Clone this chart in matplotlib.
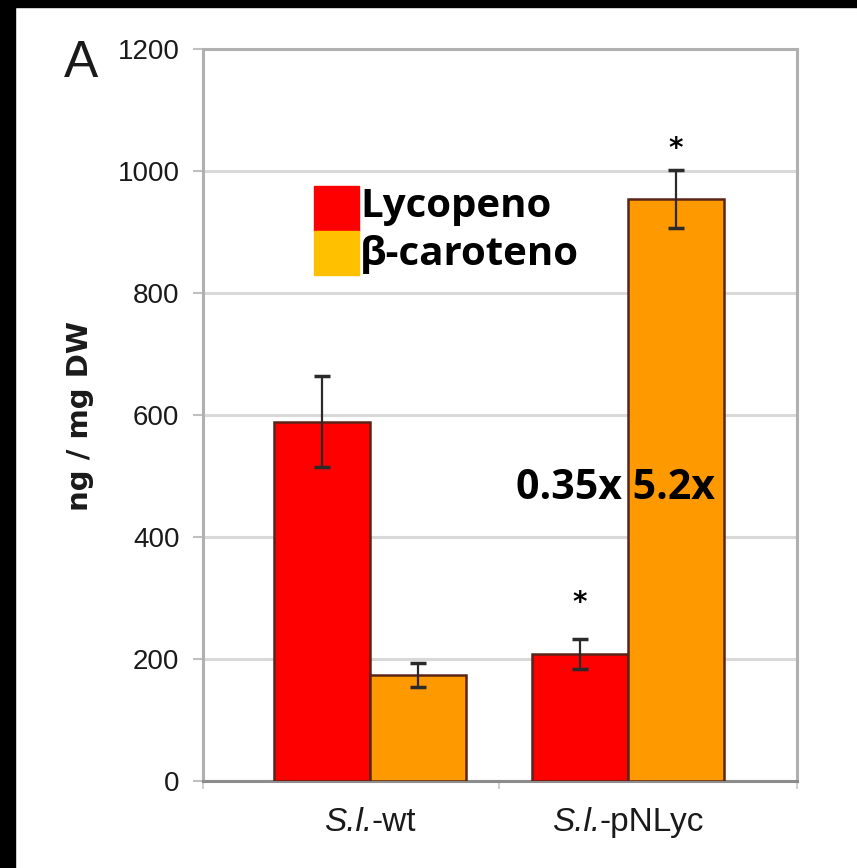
import matplotlib
matplotlib.use("Agg")
import matplotlib.pyplot as plt
from matplotlib.patches import Rectangle
from matplotlib.offsetbox import TextArea, HPacker, AnnotationBbox
from matplotlib import font_manager
import numpy as np

# ---- data ----
categories = ["S.l.-wt", "S.l.-pNLyc"]
lycopeno = [589, 208]
lycopeno_err = [75, 25]
bcaroteno = [174, 954]
bcaroteno_err = [20, 48]
lyc_signif = [False, True]
bcar_signif = [False, True]
yticks = [0, 200, 400, 600, 800, 1000, 1200]
fold_text = "0.35x 5.2x"
legend_labels = ["Lycopeno", "β-caroteno"]

plt.rcParams['font.family'] = ['Liberation Sans', 'DejaVu Sans']

names = {f.name for f in font_manager.fontManager.ttflist}
narrow = 'Liberation Sans Narrow' if 'Liberation Sans Narrow' in names else 'Liberation Sans'
tick_fs = 22 if narrow == 'Liberation Sans Narrow' else 20

W, H = 857, 868
fig = plt.figure(figsize=(W / 100, H / 100), dpi=100)
fig.patch.set_facecolor('white')

# black borders (top and left)
fig.patches.append(Rectangle((0, 1 - 7 / H), 1, 7 / H, transform=fig.transFigure,
                             color='black', zorder=0))
fig.patches.append(Rectangle((0, 0), 15 / W, 1, transform=fig.transFigure,
                             color='black', zorder=0))

ax = fig.add_axes([203 / W, (H - 781) / H, (797 - 203) / W, (781 - 49) / H])

x = np.arange(len(categories))
bw = 0.372
red = '#FF0000'
orange = '#FF9900'
edge = '#5a2418'

ax.bar(x - bw / 2, lycopeno, bw, color=red, edgecolor=edge, linewidth=1.8, zorder=3)
ax.bar(x + bw / 2, bcaroteno, bw, color=orange, edgecolor=edge, linewidth=1.8, zorder=3)
ax.errorbar(x - bw / 2, lycopeno, yerr=lycopeno_err, fmt='none', ecolor='#2a2a2a',
            elinewidth=1.6, capsize=6, capthick=2.5, zorder=4)
ax.errorbar(x + bw / 2, bcaroteno, yerr=bcaroteno_err, fmt='none', ecolor='#2a2a2a',
            elinewidth=1.6, capsize=6, capthick=2.5, zorder=4)

for i in range(len(categories)):
    if lyc_signif[i]:
        ax.text(x[i] - bw / 2, lycopeno[i] + lycopeno_err[i] + 58, '*', ha='center',
                va='center', fontsize=20, fontweight='bold', color='black',
                family='DejaVu Sans', zorder=5)
    if bcar_signif[i]:
        ax.text(x[i] + bw / 2, bcaroteno[i] + bcaroteno_err[i] + 34, '*', ha='center',
                va='center', fontsize=20, fontweight='bold', color='black',
                family='DejaVu Sans', zorder=5)

ax.set_ylim(0, 1200)
ax.set_xlim(-0.647, 1.655)
ax.set_yticks(yticks)
ax.set_yticklabels([str(v) for v in yticks], fontsize=tick_fs, color='#1a1a1a',
                   family=narrow)
ax.yaxis.grid(True, color='#d9d9d9', linewidth=2.2, zorder=0)
ax.set_axisbelow(True)

ax.set_xticks([-0.647, 0.5, 1.655])
ax.set_xticklabels(['', '', ''])
ax.tick_params(axis='x', which='major', length=6, width=1.5, color='#d0d0d0')
ax.tick_params(axis='y', length=7, width=1.5, color='#c0c0c0', pad=10)

# category labels: italic species abbreviation + plain suffix
for xi, cat in zip(x, categories):
    k = cat.index('-')
    it_part, rest = cat[:k], cat[k:]
    tp = dict(fontsize=24, color='#1a1a1a', family='Liberation Sans')
    box = HPacker(children=[TextArea(it_part, textprops=dict(style='italic', **tp)),
                            TextArea(rest, textprops=tp)],
                  pad=0, sep=0, align='baseline')
    ab = AnnotationBbox(box, (xi, 0), xycoords=('data', 'axes fraction'),
                        xybox=(0, -30), boxcoords='offset points', frameon=False,
                        box_alignment=(0.5, 0.5), annotation_clip=False)
    ax.add_artist(ab)

for s in ['left', 'top', 'right']:
    ax.spines[s].set_color('#b0b0b0')
    ax.spines[s].set_linewidth(2.2)
ax.spines['bottom'].set_color('#8c8c8c')
ax.spines['bottom'].set_linewidth(2.2)

# annotation
ax.text(0.953, 480, fold_text, ha='center', va='center', fontsize=29.5,
        fontweight='bold', family=['Open Sans', 'DejaVu Sans'], color='black', zorder=6)

# legend (manual)
def fx(px):
    return px / W

def fy(py):
    return 1 - py / H

fig.patches.append(Rectangle((fx(314), fy(231)), fx(359) - fx(314), fy(186) - fy(231),
                             transform=fig.transFigure, color='#FF0000', zorder=5))
fig.patches.append(Rectangle((fx(314), fy(275)), fx(359) - fx(314), fy(231) - fy(275),
                             transform=fig.transFigure, color='#FFC000', zorder=5))
fig.text(fx(360), fy(207), legend_labels[0], ha='left', va='center', fontsize=29,
         fontweight='bold', family=['Open Sans', 'DejaVu Sans'], color='black')
fig.text(fx(360), fy(255), legend_labels[1], ha='left', va='center', fontsize=29,
         fontweight='bold', family=['Open Sans', 'DejaVu Sans'], color='black')

# y label
fig.text(fx(80), fy(416), 'ng / mg DW', rotation=90, ha='center', va='center',
         fontsize=21, fontweight='bold', color='#1a1a1a', family='DejaVu Sans')

# panel letter
fig.text(fx(64), fy(39), 'A', ha='left', va='top', fontsize=37, color='#1a1a1a')

fig.savefig('out.png', dpi=100, facecolor='white')
